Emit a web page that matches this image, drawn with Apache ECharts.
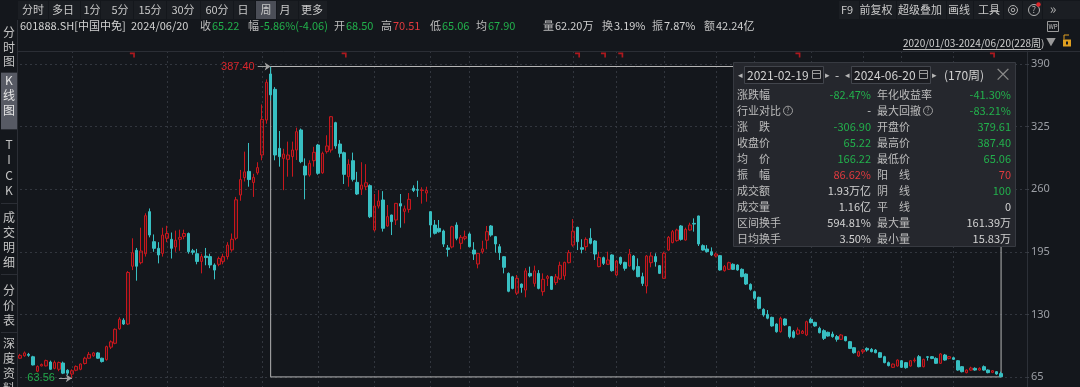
<!DOCTYPE html>
<html><head><meta charset="utf-8">
<script src="https://cdn.jsdelivr.net/npm/echarts/dist/echarts.min.js"></script>
<style>html,body{margin:0;padding:0;background:#14171c;}#c{width:1080px;height:387px;}</style>
</head><body><div id="c"></div><script>
// ---- data (weekly OHLC, 2020/01/03 - 2024/06/20, 228 weeks) ----
const weekOpen = [84.5,87,88.5,86,71,76.5,76.5,80.5,74,73,79.5,72,68,72,73,79,84.5,87,90,84.5,
83,96,100,115,124,120,180,196.5,183.7,193,236.7,205.5,198.6,193.4,209,208,200,208,211,214,
196,193,185,190.5,190,181.3,182,185,190,197,209,254,272,278.5,267,277,295.5,331.8,379.61,363.7,
302.4,292,291,293.8,300.7,321.5,284,274.7,289.6,305.9,277,299,300.7,329.1,306.9,297.9,273,289.6,267.1,260,
262.6,263.7,217.6,242.5,248.8,221.8,233.2,228,245,237,239,261,259.5,258.6,256,236.7,222.8,219.3,216.6,199,
200,222.8,203.8,209,213.5,196.8,182.3,195,207,221.8,210.7,200.3,189.9,172.6,169,152,161.5,155.3,172.6,162.2,
172.6,153.6,167.4,169.2,163,167,170,183.7,202,220.4,199.3,200.3,209,206.2,179.6,188.9,182,191.7,170.9,189.2,
184,180.3,190.6,179.6,169.2,159.5,183.7,190,180.6,167.4,196.8,204.5,206.6,221.8,207.2,217.6,224.5,232.2,201.4,197.9,
195.1,190.6,191,175.4,176.8,182,181.3,176.8,171.9,161.2,153.6,147.7,135.2,130,126.9,120,112,125.2,117.2,112,
109.6,110.3,108.6,124.9,121.7,115.5,113.1,111.4,109.6,106.9,104.1,106.9,101.7,95.4,86.8,91.3,94.7,93.7,93,90.2,
86.1,79.9,75,76.4,81.9,79.9,76.4,81.9,86.1,75.7,86,86.1,84.3,79.2,87.8,84.3,85,81.9,75.7,69.5,
72.2,74,72.2,75.7,72.2,69.8,70.5,68.5];
const weekClose = [87.5,90,87.5,77.5,76,78,82,73,80,80,69,69,71.5,76,78.5,84.5,88.5,90,84.5,81,
96.5,101.5,114.5,125,120,173.5,194,180,195.8,232.5,212.4,198.6,191.7,212.4,214,198.6,207,210,214,195,
194.5,185,190,189,181.3,176,188,190,202,208,249,270,278,270,272.3,282.4,332.5,371,358,295.5,
293.8,296.5,295.5,300.7,319.7,288.6,274.7,286.9,298.3,276.5,297.2,304.9,335.3,304.9,297.2,275.4,285.8,270.2,255,264.3,
266.7,231.4,242.5,247.7,219.4,231.5,226.3,245.3,242.5,239.6,249.5,258.6,259,259.2,258.6,222.8,214.2,215.8,203,197.5,
221,209,210,210.7,200.3,192.7,193.4,198,215.9,212.4,203.1,194.1,178.9,154,157,167.4,158,175.2,169.9,175.2,
157,166.4,169.2,156,169,181,184,194.1,216.4,205.5,197.6,207.9,203.8,192.7,189.2,183,186.5,175.4,185.4,183,
177.8,192.7,176.8,169.2,162.2,190.6,190.6,184.7,172.6,193.4,210,215.9,217.6,207.9,218.3,222.8,223.8,203.1,196.8,195.1,
191.7,192.7,176.1,179.6,183.7,176.8,176.1,169.2,161.5,156,146.7,136.3,129.4,126,118,112,125.9,119,106.9,106.2,
113.8,112.4,122.4,121.4,118,111,105.1,107.5,106.9,104.1,108.6,102.7,94.7,90.2,91.2,93,93,91.3,90.2,85.4,
79.9,76.8,78.4,82.6,75,74.7,81.9,82.6,75.7,83.3,85.4,84.3,79.2,88.9,82.6,86.1,83.3,72.2,70.5,72.2,
74.3,72.2,74,72.2,69.5,71.5,68.1,65.22];
const weekLow = [84,86,86,77,70,76,76,72.5,73,71,68,67,63.56,71,72,78,84,86,84,80,
82,94,99,114,119,119,176,165,182,190,210,195,183,190,205,188,195,196,208,193,
192,182,172.6,181,178,166.4,180,182,187,195,207,248,268,262.6,252,275,290,328,352,290,
283.4,259,273,273,290.3,287,249.5,273,283.4,275,276,297,298,302,293,265.4,262.6,268,254,254,
259,230,216,240,216,221,212.4,222.8,220,224.5,235.6,257,252,245,247,210,213,214.9,200,190,
198.6,207,197.6,207,199.6,186.5,177.8,193,197.6,210.7,194.1,186.5,172.6,153,156,150.1,152.5,147.7,168.5,158.8,
156,149.4,159.5,155.3,160.5,165.7,165.7,183,200.3,196.8,193.4,196.2,202.7,186.5,178.9,181.3,181.3,174.4,169.9,181.3,
175.4,179.6,175.4,168.5,159.5,151.8,178.9,179.6,171.9,167.4,196.2,203.8,205.5,206.6,206.6,216.9,215.9,201,196.2,194.1,
190.6,189.2,175.4,174.4,176.1,176.1,175.4,168.5,160.5,154.6,145,135.2,127.6,124.9,117.2,111,111,118,105.1,105.1,
108.6,109.6,107.5,120.7,117.2,110.3,103.4,106.9,105.8,101.7,103.4,102,94,89.2,85.8,89,91.3,90.6,89.6,84.7,
79.2,76,74.3,75.7,74.3,73.6,75.7,80,75,75,82,83.5,78.5,78.5,81.9,83.3,82.6,71.5,69.8,68.8,
71.5,71.5,71.5,71.5,68.8,69,67.4,65.06];
const weekHigh = [89,91.5,90,87,77,79,83,82,82,81,81,73,73,77,79,86,91,91,91,85,
97.5,103,115.5,127,126,175,209,199,220,235,240,213,205,220,222,215,217,218,218,215,
198,198,193,199,193,183,190,193,205,214,252,280,299,308,276,288,348,374,387.4,366,
320.4,302,309.4,309.4,323.9,323,292,290,304,307,299,316,336,330,311,299,291,298,278,288,
286,265,255,259,258,243.6,233.5,245.7,255,243,256,264,268.8,262,262.6,237,228,228,218,202,
222,225.6,212.4,217,215,205,193.8,206.5,221.8,222.8,211.4,203,190.6,173.6,170,170.9,162,178,179.6,180.6,
176,172.6,170.9,169.9,172,184.7,184.7,196.8,229,221,208,210,219.4,207.2,195.1,190,195.1,192.4,186.5,190,
184.7,197.9,191.7,188.2,173.3,191.7,194.4,193.4,181.3,195.1,211.4,217.6,219,222.8,220.1,225.2,229.7,232.5,202.7,202,
199.6,194.1,191.7,181.3,184.7,183,182,177.8,172.6,162.2,154.6,148.4,136.3,134.5,127.6,120.7,127.6,125.9,117.9,113.8,
116.5,113.8,123.5,126.6,122.4,117.2,114.5,112.1,112.1,108.6,109.6,107.5,102.4,96,92.3,93.8,95.8,95,94,91,
87,81,79,83.3,82.6,80.6,82.6,85,87.8,84,86.8,86.8,85.4,89.9,88.9,86.8,86,82.6,76.4,72.9,
75.7,75,75,77,72.9,72.2,71.2,70.51];
const yTicks = [65, 130, 195, 260, 325, 390];
const gridWeeks = [12,34,47,56,69,82,95,104,115,128,138,149,161,170,183,195,204,216];
const eventWeeks = [26,75,129,135,139,180,225];
const rangeStartWeek = 58, rangeEndWeek = 227;
const peakPrice = 387.40, troughPrice = 63.56, rangeLow = 65.06;
const padWeeks = 6;

const panelRows = [
  ['涨跌幅','-82.47%','g','年化收益率','-41.30%','g'],
  ['行业对比','-','w','最大回撤','-83.21%','g'],
  ['涨\u3000跌','-306.90','g','开盘价','379.61','g'],
  ['收盘价','65.22','g','最高价','387.40','g'],
  ['均\u3000价','166.22','g','最低价','65.06','g'],
  ['振\u3000幅','86.62%','r','阳\u3000线','70','r'],
  ['成交额','1.93万亿','w','阴\u3000线','100','g'],
  ['成交量','1.16亿','w','平\u3000线','0','w'],
  ['区间换手','594.81%','w','最大量','161.39万','w'],
  ['日均换手','3.50%','w','最小量','15.83万','w']
];
const quoteItems = [
  ['收','65.22','g'],['幅','-5.86%(-4.06)','g'],['开','68.50','g'],['高','70.51','r'],
  ['低','65.06','g'],['均','67.90','g'],['量','62.20万','w'],['换','3.19%','w'],['振','7.87%','w'],['额','42.24亿','w']
];
const quoteX = [200,248,334,381,430,476,543,602,652,704];
const periodButtons = ['分时','多日','1分','5分','15分','30分','60分','日','周','月','更多'];
const periodX = [33,63,92,120,150,183,217,243,266,285,312];
const periodDiv = [17,48,80,100,133,166,200,233,255,276,298,327];
const toolButtons = ['F9','前复权','超级叠加','画线','工具'];
const toolX = [847,876,920,959,989];
const toolDiv = [838,859,896,946,973,1003,1022,1042];
const sideItems = [['分','时','图'],['K','线','图'],['T','I','C','K'],['成','交','明','细'],['分','价','表'],['深','度','资','料']];
const sideY = [[32,47,61],[80,95,110],[144,159,175,190],[217,232,247,262],[290,305,320],[343,358,373,388]];
const sideDiv = [72,129,203,274,332];

// ---- build ----
const weeks = [];
for (let i = 0; i < weekOpen.length + padWeeks; i++) weeks.push('W' + i);
const ohlc = weekOpen.map((o, i) => [o, weekClose[i], weekLow[i], weekHigh[i]]);
const gridSet = new Set(gridWeeks);

const GREEN = '#22b14c', RED = '#e03a3e', WHITE = '#d2d2d2', LBL = '#bdbdbd';
const colorOf = c => c === 'g' ? GREEN : c === 'r' ? RED : WHITE;
const FONT = '"Noto Sans CJK SC", "Noto Sans", sans-serif';
const G = [];
function T(x, y, text, fill, size, align) {
  G.push({type:'text', x:x, y:y, z:100, silent:true,
    style:{text:text, fill:fill, font:(size||12)+'px '+FONT, align:align||'left', verticalAlign:'middle',
      textAlign:align||'left', textVerticalAlign:'middle'}});
}
function R(x, y, w, h, fill, stroke) {
  G.push({type:'rect', z:99, silent:true, shape:{x:x, y:y, width:w, height:h},
    style:{fill:fill||'none', stroke:stroke||'none', lineWidth:1}});
}
function L(x1, y1, x2, y2, stroke, z) {
  G.push({type:'line', z:z||99, silent:true, shape:{x1:x1, y1:y1, x2:x2, y2:y2}, style:{stroke:stroke, lineWidth:1}});
}
function C(cx, cy, r, fill, stroke) {
  G.push({type:'circle', z:100, silent:true, shape:{cx:cx, cy:cy, r:r}, style:{fill:fill||'none', stroke:stroke||'none', lineWidth:1}});
}

// toolbar row 1
periodDiv.forEach((x, i) => { if (i < periodDiv.length - 1) R(x + 1, 1, periodDiv[i+1] - x - 1, 18, '#1b1e23'); });
R(256, 1, 20, 18, '#4b4e57');
periodButtons.forEach((b, i) => T(periodX[i], 10, b, '#c9c9c9', 11, 'center'));
toolDiv.forEach((x, i) => { if (i < toolDiv.length - 1) R(x + 1, 1, toolDiv[i+1] - x - 1, 18, '#1b1e23'); });
R(1043, 1, 37, 18, '#1b1e23');
toolButtons.forEach((b, i) => T(toolX[i], 10, b, '#c9c9c9', 11, 'center'));
C(1013, 10, 4.5, 'none', '#b0b0b0'); C(1013, 10, 1.8, 'none', '#b0b0b0');
C(1034, 10, 5.5, 'none', '#b0b0b0'); T(1034, 10, '?', '#b0b0b0', 9, 'center'); C(1038.5, 4.5, 2.2, '#e0262b');
T(1053, 9, '»', '#b0b0b0', 14, 'center');
// quote row
T(20, 26, '601888.SH[中国中免]', WHITE, 11);
T(131, 26, '2024/06/20', WHITE, 11);
quoteItems.forEach((q, i) => { T(quoteX[i], 26, q[0], LBL, 11); T(quoteX[i] + 12, 26, q[1], colorOf(q[2]), 11); });
R(1047.5, 21.5, 11, 10, 'none', '#9a9a9a'); T(1053, 26.5, 'WP', '#c0c0c0', 6, 'center');
// range caption
T(903, 43, '2020/01/03-2024/06/20(228周)', '#d0d0d0', 10);
L(903, 49.5, 1041, 49.5, '#bdbdbd', 100);
T(1051, 42, '▼', '#9a9a9a', 10, 'center');
R(1063, 39.5, 8, 7, '#e0a020'); G.push({type:'rect', z:100, silent:true, shape:{x:1066, y:41.5, width:2, height:3}, style:{fill:'#14171c'}});
L(1064, 39.5, 1064, 35, '#e0a020'); L(1064, 35, 1069, 35, '#e0a020');
// frame lines
L(18, 51.5, 1080, 51.5, '#2b2e35', 98);
L(17.5, 20, 17.5, 387, '#2b2e35', 98);
// side bar
R(1, 73, 16, 56, '#575a64');
sideDiv.forEach(y => L(1, y + 0.5, 17, y + 0.5, '#2b2e35'));
sideItems.forEach((chars, k) => chars.forEach((ch, j) => T(9, sideY[k][j], ch, k === 1 ? '#e6e6e6' : '#c4c4c4', 12, 'center')));

// info panel
R(733.5, 62.5, 282, 184, '#25272d', '#373a41');
R(744.5, 66.5, 79, 17, '#1b1c21', '#42454c');
R(851.5, 66.5, 79, 17, '#1b1c21', '#42454c');
T(740, 75, '◂', '#b8b8b8', 9, 'center');
T(747, 75, '2021-02-19', WHITE, 12);
R(812.5, 70.5, 8, 8, 'none', '#9a9a9a'); L(812.5, 73.5, 820.5, 73.5, '#9a9a9a', 100);
T(827, 75, '▸', '#b8b8b8', 9, 'center');
T(837, 75, '-', WHITE, 12, 'center');
T(847, 75, '◂', '#b8b8b8', 9, 'center');
T(854, 75, '2024-06-20', WHITE, 12);
R(919.5, 70.5, 8, 8, 'none', '#9a9a9a'); L(919.5, 73.5, 927.5, 73.5, '#9a9a9a', 100);
T(934, 75, '▸', '#b8b8b8', 9, 'center');
T(944, 75, '(170周)', WHITE, 12);
T(1003, 74, '×', '#8a8a8a', 18, 'center');
panelRows.forEach((r, k) => {
  const y = 94.5 + k * 16.05;
  T(737, y, r[0], LBL, 11);
  T(871, y, r[1], colorOf(r[2]), 11, 'right');
  T(877, y, r[3], LBL, 11);
  T(1011, y, r[4], colorOf(r[5]), 11, 'right');
});
C(788, 110.7, 4.5, 'none', '#a0a0a0'); T(788, 110.7, '?', '#a0a0a0', 7, 'center');
C(928, 110.7, 4.5, 'none', '#a0a0a0'); T(928, 110.7, '?', '#a0a0a0', 7, 'center');

const chart = echarts.init(document.getElementById('c'), null, {renderer:'canvas'});
chart.setOption({
  animation: false,
  backgroundColor: '#14171c',
  grid: {left: 20, right: 53, top: 51, bottom: 0},
  xAxis: {
    type: 'category', data: weeks, boundaryGap: false,
    axisLine: {show: false}, axisTick: {show: false}, axisLabel: {show: false},
    splitLine: {show: true, interval: (idx) => gridSet.has(idx), lineStyle: {color: '#32363e', type: [2, 3]}}
  },
  yAxis: {
    type: 'value', position: 'right', min: 54.6, max: 403.5, scale: true,
    axisLine: {show: true, lineStyle: {color: '#2c3037'}},
    axisTick: {show: true, length: 3, customValues: yTicks, lineStyle: {color: '#3a3e46', type: [2, 2]}},
    axisLabel: {show: true, customValues: yTicks, color: '#9c9fa5', fontSize: 11, margin: 4, fontFamily: 'Noto Sans'},
    splitLine: {show: true, lineStyle: {color: '#32363e', type: [2, 3]}}
  },
  graphic: G,
  series: [
    {
      type: 'candlestick', data: ohlc, barWidth: 3, clip: false,
      itemStyle: {color: 'rgba(200,23,29,0.18)', color0: '#38bfc2', borderColor: '#c8171d', borderColor0: '#38bfc2', borderWidth: 1},
      markArea: {silent: true, itemStyle: {color: 'rgba(0,0,0,0)', borderColor: '#b5b5b5', borderWidth: 1},
        data: [[{coord: [weeks[rangeStartWeek], peakPrice]}, {coord: [weeks[rangeEndWeek], rangeLow]}]]},
      markLine: {silent: true, symbol: ['none', 'arrow'], symbolSize: 6, animation: false,
        data: [
          [{coord: [weeks[rangeStartWeek - 3], peakPrice], lineStyle: {color: '#a0a0a0', type: 'solid', width: 1},
            label: {show: true, position: 'start', formatter: peakPrice.toFixed(2), color: '#d9262c', fontSize: 11, distance: 3}},
           {coord: [weeks[rangeStartWeek], peakPrice]}],
          [{coord: [weeks[12 - 3], troughPrice], lineStyle: {color: '#a0a0a0', type: 'solid', width: 1},
            label: {show: true, position: 'start', formatter: troughPrice.toFixed(2), color: '#22a84a', fontSize: 11, distance: 4}},
           {coord: [weeks[12], troughPrice]}]
        ]}
    },
    {
      type: 'scatter', silent: true, clip: false,
      symbol: 'path://M0,0 L6,0 L6,6 L4,6 L4,2 L0,2 Z', symbolSize: [5, 5],
      itemStyle: {color: '#d41a1f'},
      data: eventWeeks.map(i => [weeks[i], 399.3])
    }
  ]
});
</script></body></html>
